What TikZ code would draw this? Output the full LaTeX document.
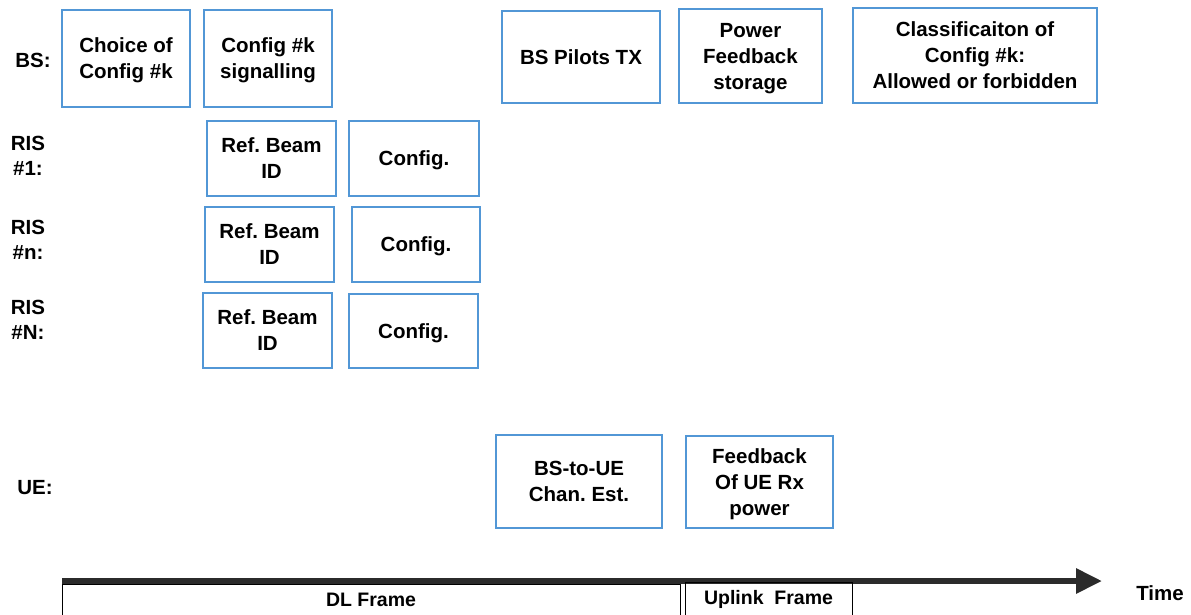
\documentclass[tikz,border=0pt]{standalone}
\usepackage{fontspec}
\setmainfont{Liberation Sans}
\usetikzlibrary{arrows.meta,positioning}
\definecolor{edge}{HTML}{5297D6}
\definecolor{axis}{HTML}{2B2B2B}
\frenchspacing

\begin{document}
\begin{tikzpicture}[
  x=1pt,y=-1pt,
  font=\bfseries\fontsize{20.5}{26}\selectfont,
  task/.style={draw=edge,line width=1.3pt,align=center,inner sep=2pt,text depth=0pt},
  actor/.style={align=center,inner sep=0pt,text depth=0pt,
                font=\bfseries\fontsize{20.5}{25}\selectfont},
  frame/.style={draw=black,line width=.8pt,align=center,inner sep=0pt,
                font=\bfseries\fontsize{19.5}{22}\selectfont},
  timeline/.style={-{Triangle[length=26pt,width=24pt]},line width=6pt,draw=axis}
]
\useasboundingbox (0,0) rectangle (1191,614);

% actors on the left
\node[actor] (bs)   at (33,60)  {BS:};
\node[actor] (ris1) at (28,156) {RIS\\\#1:};
\node[actor] (risn) at (28,240) {RIS\\\#n:};
\node[actor] (risN) at (28,320) {RIS\\\#N:};
\node[actor] (ue)   at (35,487) {UE:};

% BS row
\node[task,minimum width=128pt,minimum height=97pt] (choice)  at (126,58.5)  {Choice of\\Config \#k};
\node[task,minimum width=128pt,minimum height=97pt] (signal)  at (268,58.5)  {Config \#k\\signalling};
\node[task,minimum width=158pt,minimum height=92pt] (pilots)  at (581,57)    {BS Pilots TX};
\node[task,minimum width=143pt,minimum height=94pt] (storage) at (750.5,56)  {Power\\Feedback\\storage};
\node[task,minimum width=244pt,minimum height=95pt] (classif) at (975,55.5)  {Classificaiton of\\Config \#k:\\Allowed or forbidden};

% RIS rows
\node[task,minimum width=129pt,minimum height=75pt] (beam1) at (271.5,158.5) {Ref. Beam\\ID};
\node[task,minimum width=130pt,minimum height=75pt] (cfg1)  at (414,158.5)   {Config.};
\node[task,minimum width=129pt,minimum height=75pt] (beamn) at (269.5,244.5) {Ref. Beam\\ID};
\node[task,minimum width=128pt,minimum height=75pt] (cfgn)  at (416,244.5)   {Config.};
\node[task,minimum width=129pt,minimum height=75pt] (beamN) at (267.5,330.5) {Ref. Beam\\ID};
\node[task,minimum width=129pt,minimum height=74pt] (cfgN)  at (413.5,331)   {Config.};

% UE row
\node[task,minimum width=166pt,minimum height=93pt] (chanest)  at (579,481.5) {BS-to-UE\\Chan. Est.};
\node[task,minimum width=147pt,minimum height=92pt] (feedback) at (759.5,482) {Feedback\\Of UE Rx\\power};

% time axis and frames
\coordinate (t0) at (62,581);
\coordinate (t1) at (1102,581);
\draw[timeline] (t0) -- (t1);
\node[actor] (time) at (1160,593) {Time};
\node[frame,minimum width=618pt,minimum height=32pt] (dlframe) at (371,600)   {DL Frame};
\node[frame,minimum width=167pt,minimum height=34pt] (ulframe) at (768.5,599) {Uplink~ Frame};

\end{tikzpicture}
\end{document}
